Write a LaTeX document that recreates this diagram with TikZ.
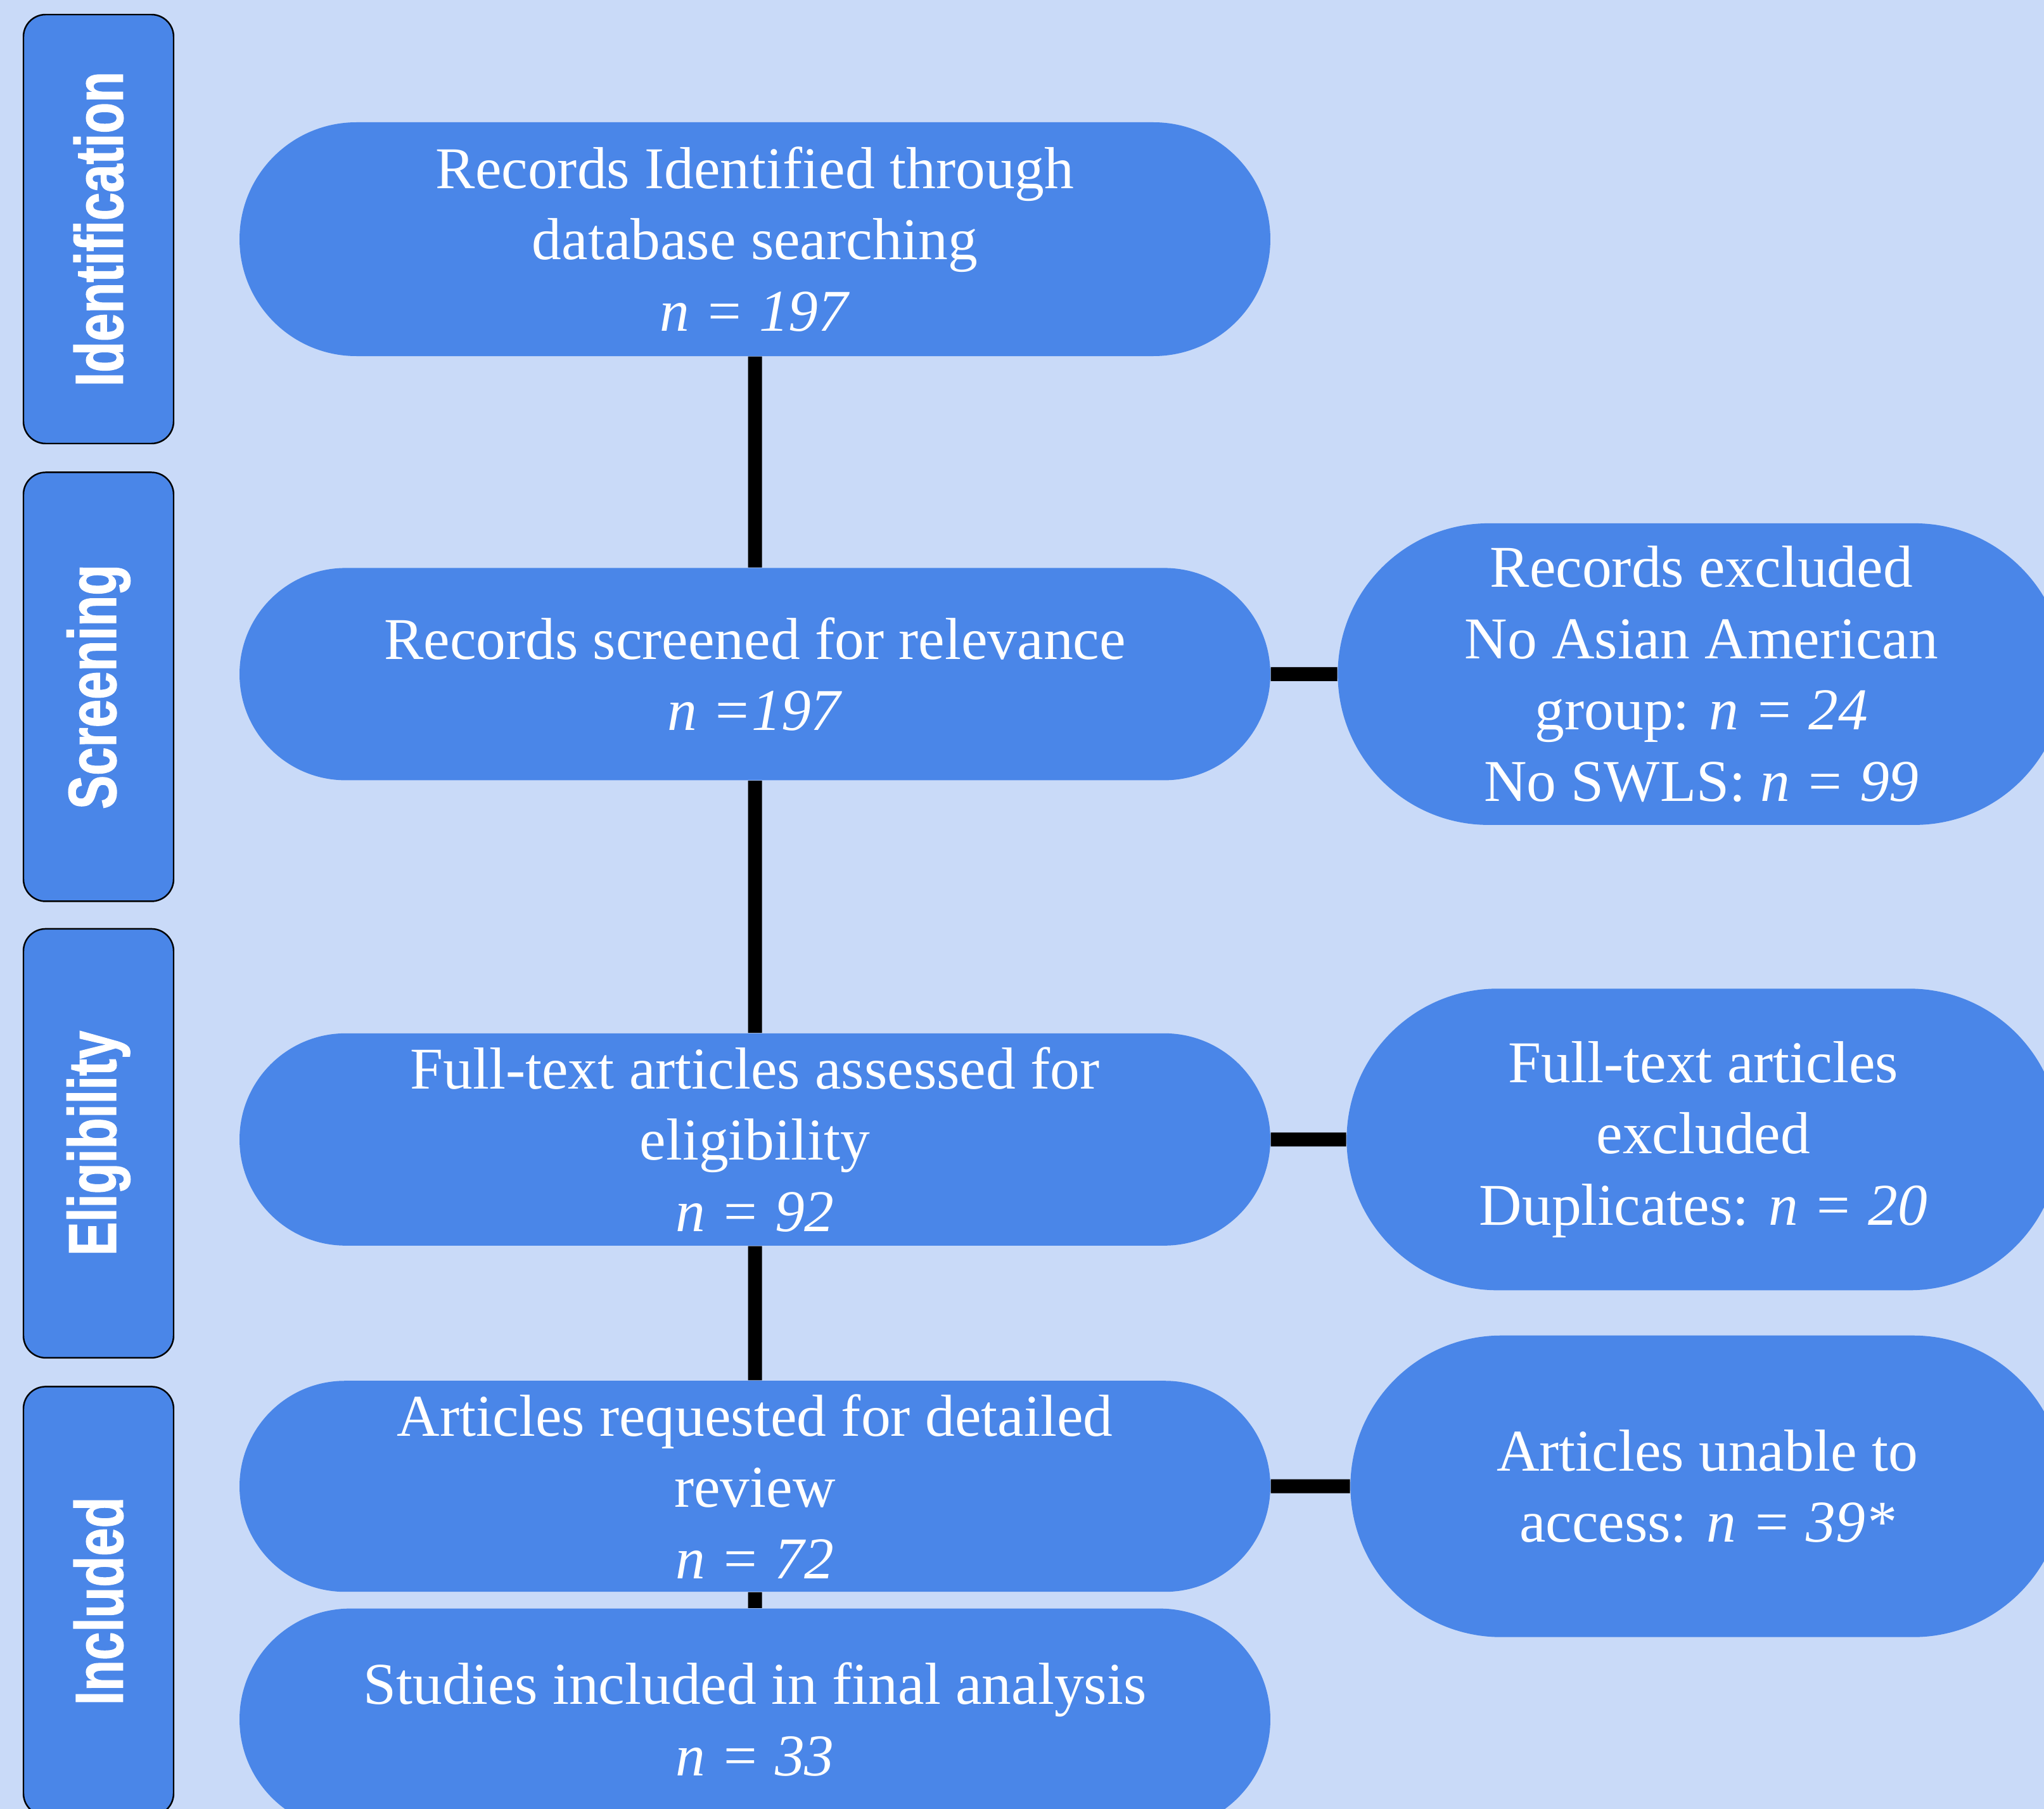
\documentclass[tikz,border=0pt]{standalone}
\usepackage{fontspec}
\setmainfont{Liberation Serif}
\newfontfamily\stagefont[FakeStretch=0.745,FakeBold=1.2]{Liberation Sans}
\usetikzlibrary{positioning,shapes.misc}
\definecolor{pagebg}{HTML}{C9DAF8}
\definecolor{boxblue}{HTML}{4A86E8}
\tikzset{
  stepbox/.style={rounded rectangle,fill=boxblue,text=white,align=center,
    minimum width=16.41cm,inner sep=2pt,font=\fontsize{26.6}{32}\selectfont},
  exclbox/.style={stepbox,minimum width=11.4cm,minimum height=4.76cm},
  stagebox/.style={draw=black,line width=0.7pt,fill=boxblue,text=white,
    rounded corners=0.35cm,minimum width=2.37cm,minimum height=6.77cm,
    font=\stagefont\bfseries\fontsize{30.5}{30.5}\selectfont},
  link/.style={line width=0.22cm}
}

\begin{document}
\begin{tikzpicture}
  \useasboundingbox (0,0) rectangle (32.26,-28.55);
  \fill[pagebg] (0,0) rectangle (32.26,-28.55);
  \clip (0,0) rectangle (32.26,-28.55);

  % stage labels on the left
  \node[stagebox] (stageid) at (1.555,-3.615) {\rotatebox{90}{Identification}};
  \node[stagebox,below=0.43cm of stageid] (stagescr) {\rotatebox{90}{Screening}};
  \node[stagebox,below=0.41cm of stagescr] (stageel) {\rotatebox{90}{Eligibility}};
  \node[stagebox,below=0.43cm of stageel] (stageinc) {\rotatebox{90}{Included}};

  % main column
  \node[stepbox,minimum height=3.69cm] (ident) at (11.915,-3.775)
    {Records Identified through\\ database searching\\ \textit{n = 197}};
  \node[stepbox,minimum height=3.35cm,below=3.33cm of ident] (screen)
    {Records screened for relevance\\ \textit{n =197}};
  \node[stepbox,minimum height=3.35cm,below=3.98cm of screen] (assess)
    {Full-text articles assessed for\\ eligibility\\ \textit{n = 92}};
  \node[stepbox,minimum height=3.33cm,below=2.12cm of assess] (request)
    {Articles requested for detailed\\ review\\ \textit{n = 72}};
  \node[stepbox,minimum height=3.5cm,below=0.25cm of request] (final)
    {Studies included in final analysis\\ \textit{n = 33}};

  % exclusions
  \node[exclbox,minimum width=11.62cm,right=1.05cm of screen] (exclrec)
    {Records excluded\\ No Asian American\\ group: \textit{n = 24}\\ No SWLS: \textit{n = 99}};
  \node[exclbox,right=1.19cm of assess] (exclfull)
    {Full-text articles\\ excluded\\ Duplicates: \textit{n = 20}};
  \node[exclbox,right=1.25cm of request] (exclacc)
    {Articles unable to\\ access: \textit{n = 39*}};

  \draw[link] (ident) -- (screen);
  \draw[link] (screen) -- (assess);
  \draw[link] (assess) -- (request);
  \draw[link] (request) -- (final);
  \draw[link] (screen) -- (exclrec);
  \draw[link] (assess) -- (exclfull);
  \draw[link] (request) -- (exclacc);
\end{tikzpicture}
\end{document}
